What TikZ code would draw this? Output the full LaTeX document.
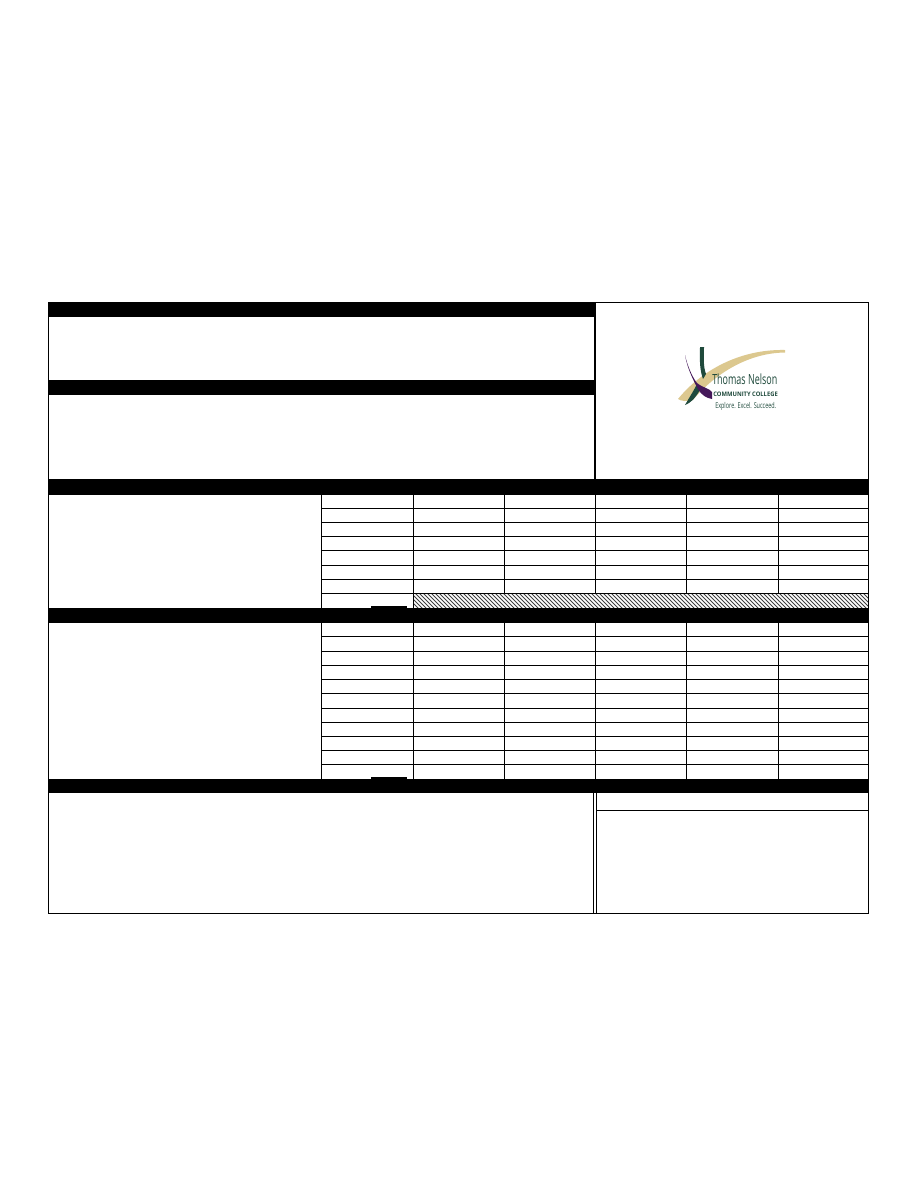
\documentclass[tikz,border=0pt]{standalone}
\usepackage{fontspec}
\setmainfont{Open Sans}
\definecolor{logotan}{HTML}{DCC88F}
\definecolor{logogreen}{HTML}{1F4A3C}
\definecolor{logopurple}{HTML}{45185A}
\tikzset{
  bar/.style={fill=black,draw=none},
  rule/.style={draw=black,line width=0.5pt},
  thin rule/.style={draw=black,line width=0.5pt},
  logotext/.style={inner sep=0pt,anchor=west,text=logogreen,transform shape}
}
\begin{document}
\begin{tikzpicture}[x=0.5pt,y=-0.5pt]
\useasboundingbox (0,0) rectangle (918,1188);
\fill[white] (0,0) rectangle (918,1188);
% logo
\fill[logotan] (678,399) .. controls (700,372) and (738,349) .. (785,350) -- (785,352.5) .. controls (745,353) and (712,377) .. (693,400) .. controls (687,402) and (681,401) .. (678,399) -- cycle;
\fill[logogreen] (700,347) -- (704,347) .. controls (704,358) and (703,366) .. (706,374) -- (703,379) .. controls (699,368) and (700,357) .. (700,347) -- cycle;
\fill[logogreen] (697,384) .. controls (693,392) and (689,398) .. (685,405) .. controls (691,403) and (697,396) .. (701,388) -- cycle;
\fill[logopurple] (685,355) .. controls (688,368) and (693,378) .. (697,383) .. controls (703,388) and (709,388) .. (712,392) -- (712,399) .. controls (707,398) and (702,396) .. (698,389) .. controls (692,378) and (687,367) .. (685,355) -- cycle;
\node[logotext,xscale=0.64,font=\fontsize{7}{8}\selectfont] (logoa) at (712,379) {Thomas Nelson};
\node[logotext,font=\fontsize{3.1}{4}\selectfont\bfseries,xscale=0.94] (logob) at (713,394.5) {COMMUNITY COLLEGE};
\node[logotext,xscale=0.68,font=\fontsize{4}{5}\selectfont] (logoc) at (715,406.5) {Explore. Excel. Succeed.};
% hatch
\begin{scope}
\clip (413.5,593.5) rectangle (868.5,608);
\foreach \i in {0,4,...,480}{
  \draw[black!75,line width=0.4pt] (400+\i,590) -- (422+\i,612);
}
\end{scope}
\draw[black,line width=0.5pt,densely dotted] (413.5,593.5) -- (868.5,593.5);
% table rules
\foreach \y in {508.5,522.5,536.5,550.5,565.5,579.5,593.5,636.5,651.5,665.5,679.5,693.5,708.5,722.5,736.5,750.5,764.5}
  \draw[thin rule] (321.5,\y) -- (868.5,\y);
\foreach \x in {321.5,413.5} \draw[thin rule] (\x,495) -- (\x,608);
\foreach \x in {504.5,595.5,686.5,778.5} \draw[thin rule] (\x,495) -- (\x,593.5);
\foreach \x in {321.5,413.5,504.5,595.5,686.5,778.5} \draw[thin rule] (\x,622) -- (\x,779);
% frame
\draw[rule] (48.5,302.5) -- (48.5,913.5) -- (868.5,913.5) -- (868.5,302.5) -- (595,302.5);
\draw[line width=1pt] (595,317) -- (595,479);
\draw[thin rule] (593.5,793) -- (593.5,913.5);
\draw[thin rule] (596.5,793) -- (596.5,913.5);
\draw[thin rule] (596.5,810.5) -- (868.5,810.5);
% bars
\fill[bar] (48,302) rectangle (595.5,317);
\fill[bar] (48,380) rectangle (595.5,395);
\fill[bar] (48,479) rectangle (869,495);
\fill[bar] (48,608) rectangle (869,622.7);
\fill[bar] (48,779) rectangle (869,793);
\fill[bar] (371,606) rectangle (407,608);
\fill[bar] (371,777) rectangle (407,779);
\end{tikzpicture}
\end{document}
